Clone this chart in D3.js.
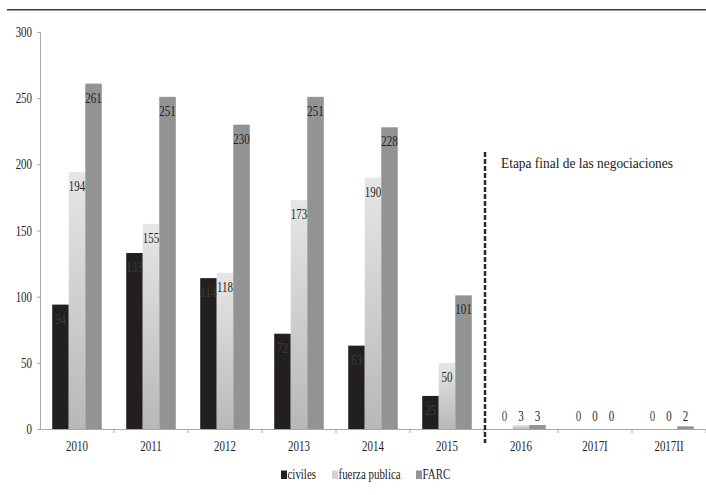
<!DOCTYPE html>
<html><head><meta charset="utf-8">
<script src="https://cdn.jsdelivr.net/npm/d3@7"></script>
<style>
body{margin:0;background:#fff;}
svg{display:block;}
text{font-family:"Liberation Serif","Times New Roman",serif;}
</style></head>
<body>
<svg id="c" width="706" height="495"></svg>
<script>
const categories = ["2010","2011","2012","2013","2014","2015","2016","2017I","2017II"];
const seriesNames = ["civiles","fuerza publica","FARC"];
const civiles = [94,133,114,72,63,25,0,0,0];
const fuerzaPublica = [194,155,118,173,190,50,3,0,0];
const farc = [261,251,230,251,228,101,3,0,2];
const yTicks = [0,50,100,150,200,250,300];
const annotation = "Etapa final de las negociaciones";

const seriesValues = [civiles, fuerzaPublica, farc];
const colors = ["#231f20","url(#gradFP)","#939393"];
const legendColors = ["#231f20","#d4d4d4","#939393"];
const SX = 0.78;

const svg = d3.select("#c");
const defs = svg.append("defs");
const g1 = defs.append("linearGradient").attr("id","gradFP").attr("x1",0).attr("y1",0).attr("x2",0).attr("y2",1);
g1.append("stop").attr("offset","0%").attr("stop-color","#e6e6e6");
g1.append("stop").attr("offset","100%").attr("stop-color","#b8b8b8");

// top rule
svg.append("line").attr("x1",7).attr("x2",706).attr("y1",9.8).attr("y2",9.8)
  .attr("stroke","#3a3a3a").attr("stroke-width",1.6);

const x = d3.scaleBand().domain(categories).range([40,706]);
const bw = x.bandwidth();
const xs = d3.scaleBand().domain(seriesNames).range([bw*0.165, bw*0.835]);
const y = d3.scaleLinear().domain([0,300]).range([429,32]);

// y axis
const ya = svg.append("g").attr("transform","translate(40,0)")
  .call(d3.axisLeft(y).tickValues(yTicks).tickSize(3).tickFormat(d3.format("d")));
ya.select(".domain").attr("stroke","#a8a8a8");
ya.selectAll(".tick line").attr("stroke","#a8a8a8");
ya.selectAll(".tick text").attr("font-size",14).attr("fill","#222")
  .attr("font-family","Liberation Serif").attr("x",-8/SX).attr("dy","0.33em")
  .attr("transform",`scale(${SX},1)`);

// x axis
const xa = svg.append("g").attr("transform","translate(0,429)")
  .call(d3.axisBottom(x).tickSize(0).tickPadding(12));
xa.select(".domain").attr("stroke","#a8a8a8");
xa.selectAll(".tick text").attr("font-size",14).attr("fill","#222")
  .attr("font-family","Liberation Serif").attr("transform",`scale(${SX},1)`);
// boundary tick marks
xa.selectAll(".bt").data(categories.slice(1).concat(["_end"])).enter().append("line")
  .attr("class","bt")
  .attr("x1",d=> d==="_end"? 706 : x(d)).attr("x2",d=> d==="_end"? 706 : x(d))
  .attr("y1",0).attr("y2",4).attr("stroke","#a8a8a8");

// bars
seriesNames.forEach((s,si)=>{
  const vals = seriesValues[si];
  svg.append("g").selectAll("rect").data(categories).enter().append("rect")
    .attr("x",(c)=>x(c)+xs(s))
    .attr("width",xs.bandwidth())
    .attr("y",(c,i)=>y(vals[i]))
    .attr("height",(c,i)=>y(0)-y(vals[i]))
    .attr("fill",colors[si]);
});

// labels
seriesNames.forEach((s,si)=>{
  const vals = seriesValues[si];
  svg.append("g").selectAll("g").data(categories).enter().append("g")
    .attr("transform",(c,i)=>{
      const cx = x(c)+xs(s)+xs.bandwidth()/2;
      const v = vals[i];
      const yy = v < 10 ? y(0)-8 : y(v)+19;
      return `translate(${cx},${yy}) scale(${SX},1)`;
    })
    .append("text").attr("text-anchor","middle").attr("font-size",14)
    .attr("fill",si===0 ? "#3c3c3c" : "#1e1e1e")
    .text((c,i)=>vals[i]);
});

// dashed separator
const sepX = x("2016")+1;
svg.append("line").attr("x1",sepX).attr("x2",sepX).attr("y1",152).attr("y2",443)
  .attr("stroke","#2a2a2a").attr("stroke-width",2.5).attr("stroke-dasharray","5,2");

svg.append("text").attr("x",501).attr("y",168).attr("font-size",15).attr("fill","#222")
  .attr("textLength",172).attr("lengthAdjust","spacingAndGlyphs").text(annotation);

// legend
const legendX = [281,332,416];
seriesNames.forEach((s,si)=>{
  svg.append("rect").attr("x",legendX[si]).attr("y",470.5).attr("width",6).attr("height",8.5)
    .attr("fill",legendColors[si]);
  svg.append("g").attr("transform",`translate(${legendX[si]+6.5},479) scale(${SX},1)`)
    .append("text").attr("font-size",14).attr("fill","#222").text(s);
});
</script>
</body></html>
